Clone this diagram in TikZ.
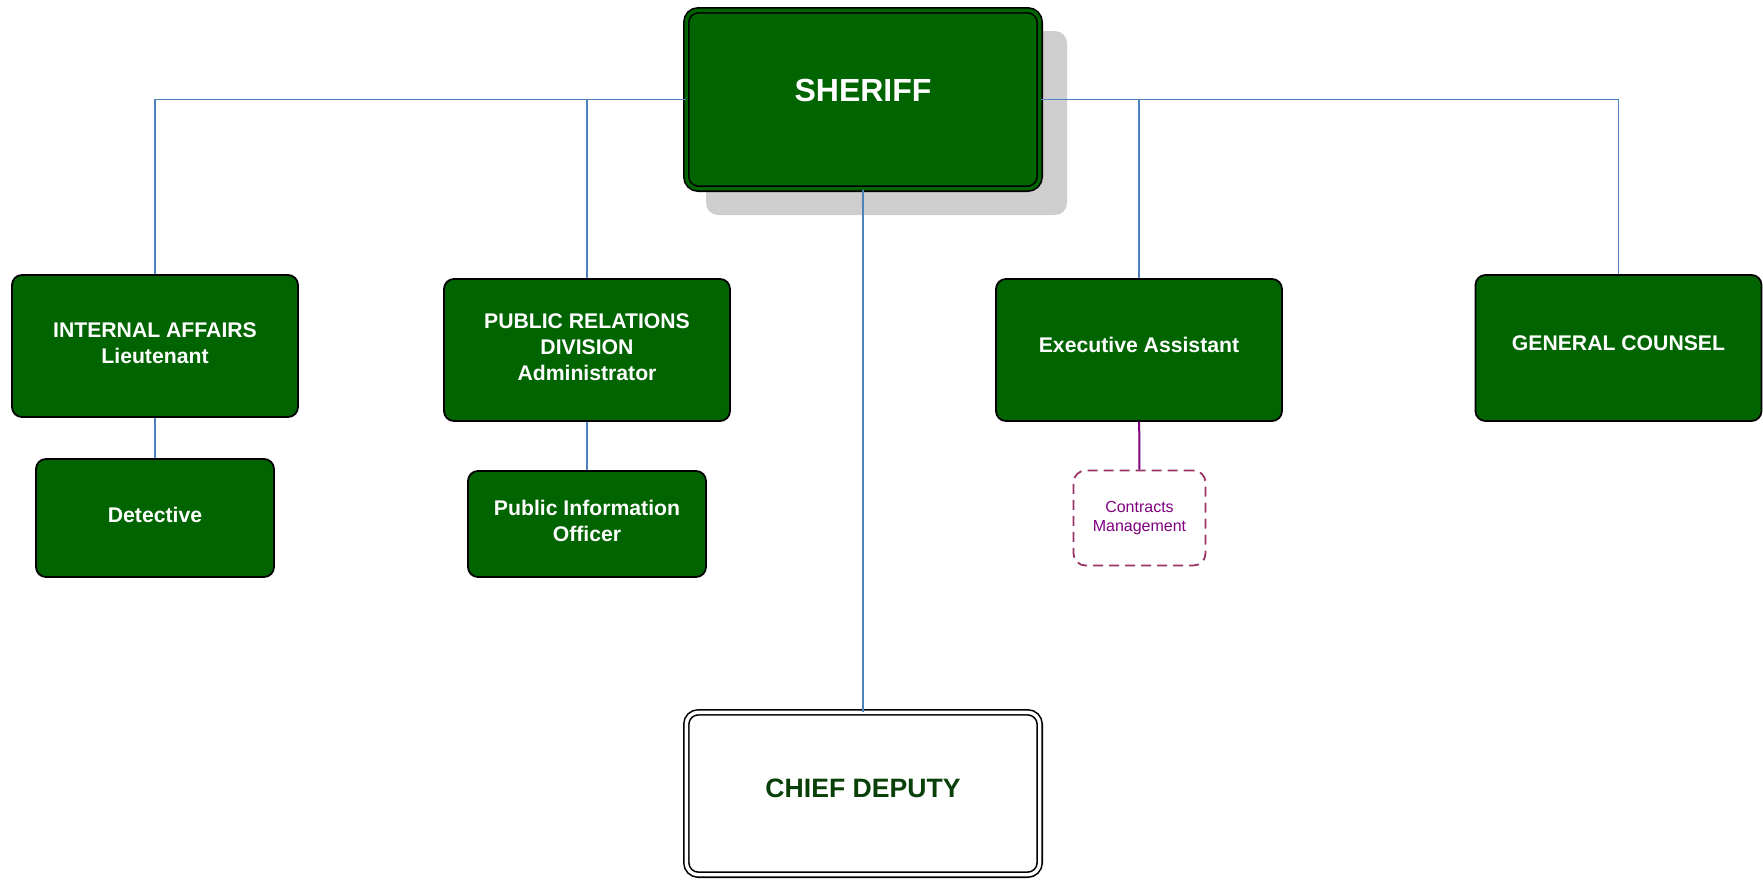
\documentclass[tikz,border=0pt]{standalone}
\usepackage{xcolor}
\usepackage{fontspec}
\setmainfont{Liberation Sans}
\usetikzlibrary{shapes, arrows.meta, positioning}

\definecolor{sherGreen}{RGB}{0,100,0}
\definecolor{deputyText}{RGB}{8,64,8}
\definecolor{linkBlue}{RGB}{79,129,189}
\definecolor{contractRim}{RGB}{153,51,102}
\definecolor{contractText}{RGB}{128,0,128}
\definecolor{shadowGray}{RGB}{206,206,206}

\begin{document}
\begin{tikzpicture}[x=0.5pt, y=-0.5pt,
            office/.style={draw=black, line width=0.9pt, rounded corners=5pt, fill=sherGreen, text=white,
                font=\fontsize{10.6}{13}\selectfont\bfseries, align=center, inner sep=2pt, text depth=3.4pt},
            topbox/.style={draw=black, line width=0.8pt, double distance=1.7pt, rounded corners=6pt,
                align=center, minimum width=176.7pt},
            link/.style={draw=linkBlue, line width=0.8pt}]
            \useasboundingbox (0,0) rectangle (1763,879);
            \node[fill=shadowGray, rounded corners=6pt, minimum width=180.5pt, minimum height=92pt] (sheriffshadow) at (886.5,123) {};
            \node[topbox, fill=sherGreen, double=sherGreen, text=white, minimum height=89.2pt,
                font=\fontsize{16}{19}\selectfont\bfseries] (sheriff) at (863,99.5) {\raisebox{9.5pt}{SHERIFF}};
            \node[topbox, fill=white, double=white, text=deputyText, minimum height=81.2pt,
                font=\fontsize{13.3}{16}\selectfont\bfseries] (deputy) at (863,793.5) {\raisebox{5.5pt}{CHIEF DEPUTY}};

            \node[office, minimum width=143pt, minimum height=71pt] (internal) at (155,346) {INTERNAL AFFAIRS\\Lieutenant};
            \node[office, minimum width=143pt, minimum height=71pt] (relations) at (587,350) {PUBLIC RELATIONS\\DIVISION\\Administrator};
            \node[office, minimum width=143pt, minimum height=71pt] (assistant) at (1139,350) {\raisebox{2pt}{Executive Assistant}};
            \node[office, minimum width=143pt, minimum height=73pt] (counsel) at (1618.5,348) {\raisebox{2pt}{GENERAL COUNSEL}};
            \node[office, minimum width=119pt, minimum height=59pt] (detective) at (155,518) {Detective};
            \node[office, minimum width=119pt, minimum height=53pt] (pio) at (587,524) {Public Information\\Officer};
            \node[draw=contractRim, line width=0.9pt, dash pattern=on 5pt off 3pt, rounded corners=6pt,
                minimum width=66pt, minimum height=47.5pt, text=contractText, align=center,
                font=\fontsize{8}{9.5}\selectfont] (contracts) at (1139.5,518) {Contracts\\Management};

            \draw[link] (internal.north) |- (sheriff.west);
            \draw[link] (relations.north) |- (sheriff.west);
            \draw[link] (assistant.north) |- (sheriff.east);
            \draw[link] (counsel.north) |- (sheriff.east);
            \draw[link] (sheriff) -- (deputy);
            \draw[link] (internal) -- (detective);
            \draw[link] (relations) -- (pio);
            \draw[draw=contractText, line width=1pt] (assistant) -- (contracts);
        \end{tikzpicture}
\end{document}
